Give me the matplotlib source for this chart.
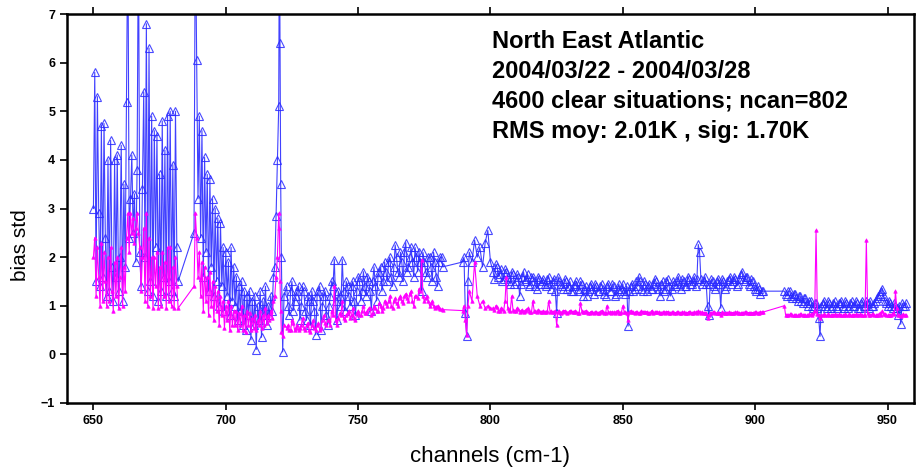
import matplotlib
matplotlib.use("Agg")
import matplotlib.pyplot as plt

# channels (cm-1), std (blue) and bias (magenta)
channels_a = [650.0, 650.5, 651.0, 651.5, 652.0, 652.5, 653.0, 653.5, 654.0, 654.5,
              655.0, 655.5, 656.0, 656.5, 657.0, 657.5, 658.0, 658.5, 659.0, 659.5,
              660.0, 660.5, 661.0, 661.5, 662.0, 662.5, 663.0, 663.5, 664.0, 664.5,
              665.0, 665.5, 666.0, 666.5, 667.0, 667.5, 668.0, 668.5, 669.0, 669.5,
              670.0, 670.5, 671.0, 671.5, 672.0, 672.5, 673.0, 673.5, 674.0, 674.5,
              675.0, 675.5, 676.0, 676.5, 677.0, 677.5, 678.0, 678.5, 679.0, 679.5,
              680.0, 680.5, 681.0, 681.5, 682.0]
std_a = [3.0, 5.8, 1.5, 5.3, 2.9, 1.4, 4.7, 1.6, 4.75, 2.4,
         1.2, 4.0, 1.3, 4.4, 1.8, 1.1, 4.0, 1.6, 4.1, 1.3,
         2.0, 4.3, 1.1, 3.5, 1.8, 5.2, 9.0, 2.4, 3.2, 4.1,
         2.5, 3.3, 1.9, 3.8, 9.0, 2.1, 1.4, 3.4, 5.4, 2.0,
         6.8, 1.3, 6.3, 1.5, 4.9, 1.2, 4.6, 2.2, 4.5, 1.1,
         3.7, 1.3, 4.8, 1.6, 4.2, 1.2, 4.9, 1.5, 5.0, 1.3,
         3.9, 1.2, 5.0, 2.2, 1.5]
bias_a = [2.0, 2.4, 1.2, 2.2, 1.6, 1.0, 2.3, 1.1, 2.1, 1.5,
          1.0, 2.0, 1.1, 2.2, 1.3, 0.9, 1.9, 1.2, 2.0, 0.95,
          1.6, 2.2, 1.0, 1.8, 1.3, 2.4, 2.9, 2.1, 2.9, 2.5,
          2.8, 2.3, 2.6, 2.9, 2.5, 2.2, 1.3, 2.0, 2.6, 1.1,
          2.9, 1.0, 2.4, 1.2, 2.0, 0.95, 2.0, 1.4, 2.1, 0.95,
          1.8, 1.0, 2.1, 1.2, 1.9, 0.95, 2.2, 1.1, 2.2, 1.0,
          1.8, 0.95, 2.0, 1.4, 0.95]

channels_b = [688.0, 688.5, 689.0, 689.5, 690.0, 690.5, 691.0, 691.5, 692.0, 692.5,
              693.0, 693.5, 694.0, 694.5, 695.0, 695.5, 696.0, 696.5, 697.0, 697.5,
              698.0, 698.5, 699.0, 699.5, 700.0, 700.5, 701.0, 701.5, 702.0, 702.5,
              703.0, 703.5, 704.0, 704.5, 705.0, 705.5, 706.0, 706.5, 707.0, 707.5,
              708.0, 708.5, 709.0, 709.5, 710.0, 710.5, 711.0, 711.5, 712.0, 712.5,
              713.0, 713.5, 714.0, 714.5, 715.0, 715.5, 716.0, 716.5, 717.0, 717.5,
              718.0, 718.5, 719.0, 719.5, 720.0, 720.25, 720.5, 720.75, 721.0, 721.5,
              722.0]
std_b = [2.5, 9.0, 6.05, 3.2, 4.9, 2.4, 4.6, 1.6, 4.05, 2.1,
         3.7, 1.3, 3.6, 1.8, 3.2, 1.2, 3.0, 1.5, 2.8, 1.0,
         2.7, 1.4, 2.2, 0.9, 2.1, 1.2, 1.9, 0.8, 2.2, 1.1,
         1.8, 1.0, 1.6, 0.7, 1.4, 0.9, 1.5, 0.6, 1.3, 0.5,
         1.2, 0.8, 1.3, 0.3, 1.1, 0.6, 1.2, 0.1, 1.0, 0.7,
         1.3, 0.35, 1.1, 0.8, 1.4, 0.6, 1.0, 0.8, 1.2, 0.9,
         1.6, 1.8, 2.85, 4.0, 5.1, 9.0, 6.4, 3.5, 2.0, 0.05,
         1.2]
bias_b = [1.4, 2.9, 2.4, 1.6, 2.1, 1.2, 1.9, 0.9, 1.8, 1.1,
          1.6, 0.8, 1.7, 1.0, 1.5, 0.7, 1.4, 0.9, 1.3, 0.6,
          1.2, 0.8, 1.1, 0.55, 1.0, 0.7, 1.1, 0.5, 1.0, 0.6,
          0.9, 0.6, 0.9, 0.5, 0.85, 0.6, 1.0, 0.5, 0.8, 0.45,
          0.9, 0.6, 0.85, 0.5, 0.75, 0.55, 0.8, 0.5, 0.7, 0.6,
          0.9, 0.55, 0.8, 0.6, 0.95, 0.65, 0.8, 0.7, 0.9, 0.75,
          1.1, 1.2, 1.6, 2.0, 2.9, 2.6, 1.5, 0.9, 0.45, 0.37,
          0.6]

channels_c = [723, 724, 725, 726, 727, 728, 729, 730, 731, 732,
              733, 734, 735, 736, 737, 738, 739, 740, 741, 742,
              743, 744, 745, 746, 747, 748, 749, 750, 751, 752,
              753, 754, 755, 756, 757, 758, 759, 760, 761, 762,
              763, 764, 765, 766, 767, 768, 769, 770, 771, 772,
              773, 774, 775, 776, 777, 778, 779, 780, 781, 782,
              789.5, 790, 790.5, 791, 791.5, 792, 793, 794, 795, 796,
              797, 798, 799, 800]
std_c = [1.4, 0.8, 1.5, 1.1, 1.3, 0.7, 1.4, 0.9, 1.2, 0.6,
         1.1, 0.4, 1.3, 0.5, 1.2, 0.8, 1.0, 1.5, 1.95, 0.7,
         1.2, 1.95, 0.9, 1.4, 1.0, 1.5, 0.8, 1.6, 1.1, 1.7,
         1.2, 1.5, 0.9, 1.8, 1.1, 1.7, 1.3, 1.9, 1.5, 2.0,
         1.4, 2.25, 1.7, 2.1, 1.5, 2.3, 1.8, 2.2, 1.6, 2.0,
         2.1, 1.3, 1.9, 1.6, 2.0, 1.5, 1.9, 1.4, 2.0, 1.8,
         1.9, 2.0, 0.85, 0.37, 1.5, 2.1, 1.9, 2.35, 2.0, 2.2,
         1.8, 2.3, 2.55, 1.9]
bias_c = [0.55, 0.5, 0.7, 0.5, 0.6, 0.55, 0.75, 0.5, 0.65, 0.45,
          0.7, 0.5, 0.65, 0.55, 0.8, 0.6, 0.7, 0.9, 1.4, 0.6,
          0.85, 1.1, 0.7, 0.85, 0.75, 0.95, 0.7, 0.9, 0.8, 1.0,
          0.85, 0.95, 0.8, 1.0, 0.9, 1.05, 0.9, 1.1, 1.0, 1.2,
          0.95, 1.15, 1.0, 1.2, 1.05, 1.25, 1.1, 1.3, 1.0, 1.2,
          1.35, 1.95, 1.1, 1.2, 1.0, 1.1, 0.95, 1.0, 0.93, 0.92,
          0.9, 1.0, 0.7, 0.4, 1.0, 1.3, 1.1, 1.9, 1.2, 1.0,
          1.1, 0.95, 1.0, 0.95]

channels_c2 = [723.5, 724.5, 725.5, 726.5, 727.5, 728.5, 729.5, 730.5, 731.5, 732.5,
               733.5, 734.5, 735.5, 736.5, 737.5, 738.5, 739.5, 740.5, 741.5, 742.5,
               743.5, 744.5, 745.5, 746.5, 747.5, 748.5, 749.5, 750.5, 751.5, 752.5,
               753.5, 754.5, 755.5, 756.5, 757.5, 758.5, 759.5, 760.5, 761.5, 762.5,
               763.5, 764.5, 765.5, 766.5, 767.5, 768.5, 769.5, 770.5, 771.5, 772.5,
               773.5, 774.5, 775.5, 776.5, 777.5, 778.5, 779.5, 780.5, 781.5]
std_c2 = [1.0, 1.3, 0.9, 1.2, 1.4, 1.0, 1.3, 0.7, 1.1, 1.3,
          0.9, 1.2, 1.4, 1.0, 1.3, 0.6, 1.2, 1.4, 1.1, 1.3,
          1.0, 1.3, 1.5, 1.2, 1.4, 1.1, 1.3, 1.5, 1.3, 1.4,
          1.6, 1.3, 1.5, 1.4, 1.6, 1.8, 1.5, 1.7, 1.9, 1.6,
          1.8, 2.0, 1.6, 1.9, 2.1, 1.7, 2.0, 1.9, 2.2, 1.7,
          1.9, 2.1, 1.7, 2.0, 1.8, 2.1, 1.6, 1.9, 2.0]
bias_c2 = [0.6, 0.5, 0.65, 0.55, 0.5, 0.6, 0.55, 0.6, 0.5, 0.6,
           0.55, 0.6, 0.5, 0.7, 0.65, 0.7, 0.6, 0.8, 0.7, 0.75,
           0.8, 0.75, 0.8, 0.9, 0.8, 0.75, 0.85, 0.8, 0.9, 0.85,
           0.9, 0.95, 0.85, 0.95, 0.9, 1.0, 0.95, 1.05, 1.1, 1.0,
           1.1, 1.05, 1.15, 1.1, 1.2, 1.15, 1.25, 1.1, 1.2, 1.15,
           1.3, 1.2, 1.15, 1.1, 1.05, 1.0, 0.98, 0.95, 0.93]

channels_d = [801, 802, 803, 804, 805, 806, 807, 808, 809, 810,
              811, 812, 813, 814, 815, 816, 817, 818, 819, 820,
              821, 822, 823, 824, 825, 826, 827, 828, 829, 830,
              831, 832, 833, 834, 835, 836, 837, 838, 839, 840,
              841, 842, 843, 844, 845, 846, 847, 848, 849, 850,
              851, 852, 853, 854, 855, 856, 857, 858, 859, 860,
              861, 862, 863, 864, 865, 866, 867, 868, 869, 870,
              871, 872, 873, 874, 875, 876, 877, 878, 878.5, 879,
              879.5, 880, 881, 882, 882.5, 883, 884, 885, 886, 887,
              888, 889, 890, 891, 892, 893, 894, 895, 896, 897,
              898, 899, 900, 901, 902, 903]
std_d = [1.7, 1.85, 1.6, 1.75, 1.55, 1.7, 1.5, 1.7, 1.45, 1.65,
         1.2, 1.6, 1.5, 1.65, 1.45, 1.6, 1.4, 1.6, 1.45, 1.55,
         1.4, 1.6, 1.35, 1.55, 0.85, 1.5, 1.4, 1.55, 1.35, 1.5,
         1.3, 1.45, 1.35, 1.5, 1.2, 1.4, 1.3, 1.45, 1.25, 1.4,
         1.3, 1.45, 1.25, 1.4, 1.3, 1.45, 1.2, 1.35, 1.3, 1.45,
         1.25, 0.58, 1.4, 1.3, 1.5, 1.6, 1.35, 1.5, 1.3, 1.45,
         1.35, 1.55, 1.4, 1.2, 1.5, 1.35, 1.55, 1.2, 1.5, 1.4,
         1.6, 1.35, 1.5, 1.4, 1.55, 1.45, 1.6, 1.55, 2.26, 2.1,
         1.55, 1.45, 1.6, 0.99, 0.8, 1.45, 1.5, 1.35, 1.55, 0.95,
         1.5, 1.4, 1.55, 1.45, 1.6, 1.4, 1.55, 1.7, 1.5, 1.6,
         1.4, 1.5, 1.35, 1.4, 1.25, 1.3]
bias_d = [0.95, 1.0, 0.9, 0.95, 0.9, 1.6, 0.92, 1.2, 0.9, 0.95,
          0.88, 0.92, 0.9, 0.95, 0.88, 1.1, 0.9, 0.92, 0.88, 0.9,
          0.87, 1.1, 0.9, 0.88, 0.6, 0.9, 0.87, 0.9, 0.86, 0.9,
          0.88, 0.9, 0.86, 1.05, 0.87, 0.9, 0.86, 0.88, 0.85, 0.88,
          0.86, 0.9, 0.85, 1.0, 0.87, 0.88, 0.85, 0.9, 0.86, 1.0,
          0.88, 0.7, 0.9, 0.87, 0.88, 0.86, 0.9, 0.87, 0.88, 0.86,
          0.9, 0.87, 0.88, 0.85, 0.87, 0.86, 0.88, 0.85, 0.87, 0.86,
          0.88, 0.85, 0.87, 0.86, 0.88, 0.85, 0.87, 0.86, 0.9, 0.88,
          0.86, 0.87, 0.85, 0.75, 0.8, 0.86, 0.87, 0.85, 0.86, 0.8,
          0.86, 0.85, 0.87, 0.86, 0.85, 0.87, 0.86, 0.85, 0.87, 0.85,
          0.86, 0.86, 0.87, 0.86, 0.88, 0.87]

channels_d2 = [801.5, 802.5, 803.5, 804.5, 805.5, 806.5, 807.5, 808.5, 809.5, 810.5,
               811.5, 812.5, 813.5, 814.5, 815.5, 816.5, 817.5, 818.5, 819.5, 820.5,
               821.5, 822.5, 823.5, 824.5, 825.5, 826.5, 827.5, 828.5, 829.5, 830.5,
               831.5, 832.5, 833.5, 834.5, 835.5, 836.5, 837.5, 838.5, 839.5, 840.5,
               841.5, 842.5, 843.5, 844.5, 845.5, 846.5, 847.5, 848.5, 849.5, 850.5,
               851.5, 852.5, 853.5, 854.5, 855.5, 856.5, 857.5, 858.5, 859.5, 860.5,
               861.5, 862.5, 863.5, 864.5, 865.5, 866.5, 867.5, 868.5, 869.5, 870.5,
               871.5, 872.5, 873.5, 874.5, 875.5, 876.5, 877.5, 880.5, 881.5,
               883.5, 884.5, 885.5, 886.5, 887.5, 888.5, 889.5, 890.5,
               891.5, 892.5, 893.5, 894.5, 895.5, 896.5, 897.5, 898.5, 899.5, 900.5,
               901.5, 902.5]
std_d2 = [1.55, 1.8, 1.65, 1.5, 1.75, 1.6, 1.45, 1.65, 1.5, 1.6,
          1.45, 1.7, 1.55, 1.4, 1.6, 1.5, 1.35, 1.55, 1.5, 1.45,
          1.55, 1.45, 1.5, 1.3, 1.6, 1.45, 1.35, 1.5, 1.4, 1.3,
          1.4, 1.5, 1.3, 1.45, 1.35, 1.2, 1.4, 1.35, 1.45, 1.3,
          1.4, 1.35, 1.2, 1.45, 1.3, 1.4, 1.25, 1.45, 1.35, 1.3,
          1.4, 1.3, 1.45, 1.35, 1.4, 1.5, 1.3, 1.45, 1.4, 1.35,
          1.45, 1.5, 1.35, 1.45, 1.3, 1.5, 1.4, 1.35, 1.45, 1.5,
          1.45, 1.55, 1.4, 1.6, 1.45, 1.5, 1.4, 1.5, 1.45,
          1.55, 1.4, 1.5, 1.45, 1.55, 1.35, 1.5, 1.6,
          1.5, 1.55, 1.45, 1.65, 1.55, 1.6, 1.45, 1.55, 1.4, 1.3,
          1.35, 1.3]
bias_d2 = [0.92, 0.98, 0.9, 0.93, 1.1, 0.95, 0.9, 0.92, 0.9, 0.93,
           0.9, 0.88, 0.92, 0.9, 0.87, 0.9, 0.88, 0.9, 0.87, 0.88,
           0.9, 0.88, 0.87, 0.9, 0.88, 0.86, 0.9, 0.88, 0.87, 0.89,
           0.87, 0.88, 0.86, 0.9, 0.88, 0.87, 0.86, 0.88, 0.87, 0.86,
           0.88, 0.87, 0.86, 0.88, 0.86, 0.87, 0.88, 0.86, 0.87, 0.88,
           0.86, 0.87, 0.88, 0.86, 0.87, 0.86, 0.88, 0.87, 0.86, 0.87,
           0.86, 0.88, 0.87, 0.86, 0.87, 0.88, 0.86, 0.87, 0.86, 0.87,
           0.86, 0.87, 0.85, 0.86, 0.88, 0.86, 0.87, 0.86, 0.85,
           0.86, 0.87, 0.85, 0.86, 0.87, 0.86, 0.85, 0.86,
           0.86, 0.87, 0.86, 0.85, 0.86, 0.87, 0.86, 0.85, 0.86, 0.87,
           0.86, 0.87]

channels_e = [911, 912, 913, 914, 915, 916, 917, 918, 919, 920,
              921, 922, 923, 924, 924.5, 925, 926, 927, 928, 929,
              930, 931, 932, 933, 934, 935, 936, 937, 938, 939,
              940, 941, 942, 943, 944, 945, 946, 947, 948, 949,
              950, 951, 952, 953, 954, 955, 956, 957]
std_e = [1.3, 1.2, 1.3, 1.15, 1.25, 1.1, 1.2, 1.05, 1.15, 1.0,
         1.1, 0.95, 1.05, 0.75, 0.37, 1.0, 1.1, 0.95, 1.05, 1.0,
         1.1, 0.95, 1.05, 1.0, 1.1, 0.95, 1.05, 1.0, 1.1, 0.95,
         1.05, 1.0, 1.1, 0.95, 1.0, 1.05, 1.15, 1.25, 1.35, 1.1,
         1.0, 1.05, 0.95, 1.0, 0.8, 0.62, 1.0, 1.05]
bias_e = [1.0, 0.8, 0.82, 0.8, 0.81, 0.8, 0.82, 0.8, 0.81, 0.8,
          0.82, 0.85, 2.55, 0.8, 0.75, 0.8, 0.82, 0.8, 0.81, 0.8,
          0.82, 0.8, 0.81, 0.8, 0.82, 0.8, 0.81, 0.8, 0.82, 0.8,
          0.81, 0.8, 2.35, 0.8, 0.82, 0.8, 0.81, 0.85, 0.9, 0.82,
          0.8, 0.81, 0.85, 1.3, 0.8, 0.78, 0.82, 0.8]

channels_e2 = [911.5, 912.5, 913.5, 914.5, 915.5, 916.5, 917.5, 918.5, 919.5, 920.5,
               921.5, 922.5, 923.5, 925.5, 926.5, 927.5, 928.5, 929.5, 930.5,
               931.5, 932.5, 933.5, 934.5, 935.5, 936.5, 937.5, 938.5, 939.5, 940.5,
               941.5, 942.5, 943.5, 944.5, 945.5, 946.5, 947.5, 948.5, 949.5, 950.5,
               951.5, 952.5, 953.5, 954.5, 955.5, 956.5]
std_e2 = [1.25, 1.3, 1.2, 1.25, 1.15, 1.2, 1.1, 1.15, 1.05, 1.1,
          1.0, 1.05, 0.95, 1.05, 1.0, 1.1, 0.95, 1.05, 1.0,
          1.05, 1.1, 0.95, 1.05, 1.0, 1.1, 1.0, 1.05, 0.95, 1.1,
          1.0, 1.05, 1.1, 1.0, 1.1, 1.2, 1.3, 1.2, 1.05, 1.1,
          1.0, 1.05, 0.95, 1.0, 1.05, 1.0]
bias_e2 = [0.81, 0.8, 0.82, 0.8, 0.81, 0.8, 0.82, 0.81, 0.8, 0.82,
           0.8, 0.9, 0.82, 0.81, 0.8, 0.82, 0.8, 0.81, 0.8,
           0.82, 0.8, 0.81, 0.8, 0.82, 0.8, 0.81, 0.8, 0.82, 0.8,
           0.81, 0.85, 0.8, 0.82, 0.8, 0.81, 0.8, 0.82, 0.8, 0.81,
           0.8, 0.82, 0.95, 0.8, 0.81, 0.8]

title_lines = ["North East Atlantic",
               "2004/03/22 - 2004/03/28",
               "4600 clear situations; ncan=802",
               "RMS moy: 2.01K , sig: 1.70K"]

# put all segments together, ordered by channel
rows = sorted(zip(channels_a + channels_b + channels_c + channels_c2 + channels_d
                  + channels_d2 + channels_e + channels_e2,
                  std_a + std_b + std_c + std_c2 + std_d + std_d2 + std_e + std_e2,
                  bias_a + bias_b + bias_c + bias_c2 + bias_d + bias_d2 + bias_e + bias_e2))
channels = [r[0] for r in rows]
std_vals = [r[1] for r in rows]
bias_vals = [r[2] for r in rows]

tick_font = ['Liberation Sans Narrow', 'Liberation Sans', 'DejaVu Sans']

fig = plt.figure(figsize=(9.16, 4.75), dpi=100)
ax = fig.add_axes([0.0731, 0.1516, 0.9247, 0.8189])

ax.plot(channels, std_vals, color='#2020ff', lw=0.8, alpha=0.85,
        marker='^', markersize=6, markerfacecolor='none',
        markeredgecolor='#2a2aff', markeredgewidth=0.8)
ax.plot(channels, bias_vals, color='#ff00ff', lw=0.8,
        marker='^', markersize=2.5, markeredgewidth=0.5)

ax.set_xlim(640, 960)
ax.set_ylim(-1, 7)
ax.set_xticks([650, 700, 750, 800, 850, 900, 950])
ax.set_yticks([-1, 0, 1, 2, 3, 4, 5, 6, 7])
ax.tick_params(axis='x', top=True, direction='out', length=5, width=1.2)
ax.tick_params(axis='y', direction='out', length=5, width=1.2)
for lab in ax.get_xticklabels() + ax.get_yticklabels():
    lab.set_family(tick_font)
    lab.set_fontsize(9)
    lab.set_fontweight('bold')
for s in ax.spines.values():
    s.set_linewidth(1.8)

ax.set_xlabel('channels (cm-1)', fontsize=16, family=tick_font, labelpad=14)
fig.text(20 / 916, 1 - 245 / 475, 'bias std', rotation=90, fontsize=15,
         family=tick_font, ha='center', va='center')

for i, line in enumerate(title_lines):
    ax.text(0.502, 0.9126 - i * 0.0771, line, transform=ax.transAxes,
            fontsize=17, fontweight='bold', family=['Liberation Sans', 'DejaVu Sans'],
            va='baseline', ha='left')

fig.savefig('out.png', dpi=100)
